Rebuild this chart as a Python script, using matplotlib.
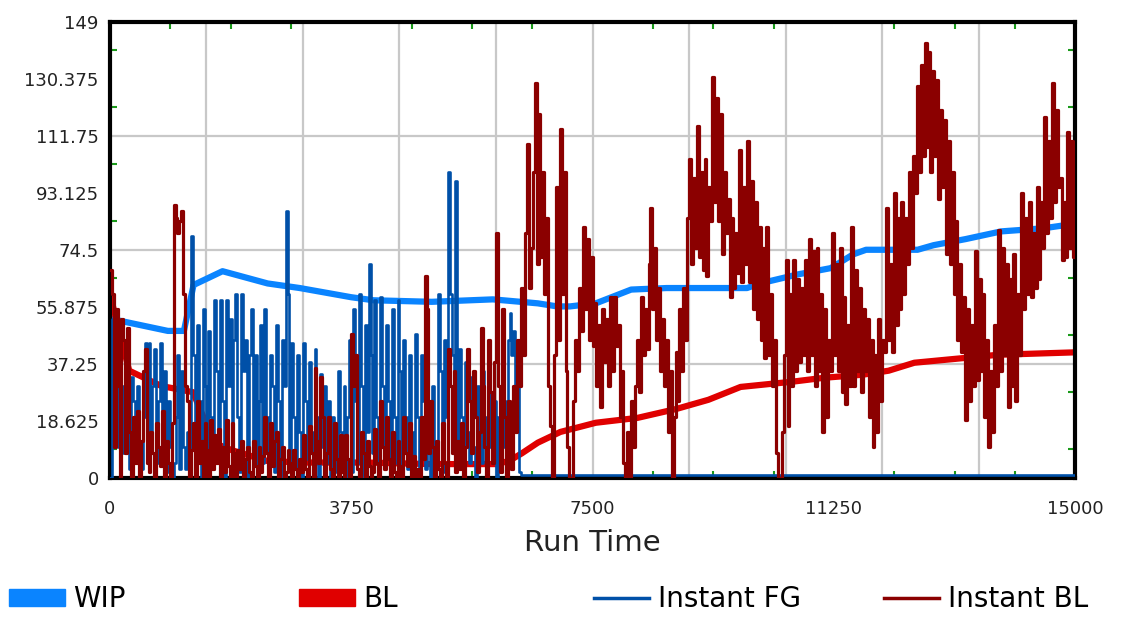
import numpy as np
import matplotlib.pyplot as plt
from matplotlib.patches import Patch
from matplotlib.lines import Line2D

# WIP (average)
wip_t = [0, 900, 1150, 1300, 1750, 2450, 2950, 3750, 4100, 5000, 5950, 6650, 6950, 7150,
         7550, 8100, 8650, 9900, 10100, 10700, 11200, 11550, 11750, 12550, 12800, 13300,
         13850, 14500, 15000]
wip_v = [52, 48, 48, 63, 67.5, 63.5, 62, 59, 58, 57.5, 58.3, 57, 56, 56,
         57, 61.5, 62, 62, 63.5, 66.5, 68.5, 73, 74.5, 74.5, 76, 78,
         80.5, 81.5, 83]

# BL (average)
bl_t = [0, 300, 800, 1290, 1450, 1550, 1900, 2450, 3000, 4000, 5000, 6000, 6200, 6400,
        6650, 7000, 7550, 8200, 8800, 9300, 9800, 10600, 11100, 11700, 12100, 12500,
        13300, 13800, 15000]
bl_v = [60, 35, 30, 28, 20, 12, 9, 5.5, 5, 5, 4.5, 4.5, 5.5, 8,
        11.5, 15, 18, 19.6, 22.5, 25.5, 29.7, 31.4, 32.7, 33.7, 35, 37.6,
        39.2, 40.2, 41]

# Instant FG, one value every 30 time units until it settles near zero
inst_fg = [0, 52, 35, 48, 10, 50, 30, 8, 45, 20,
           3, 33, 25, 5, 30, 12, 3, 20, 44, 15,
           44, 10, 30, 42, 5, 25, 44, 8, 35, 2,
           25, 10, 0, 5, 20, 40, 3, 35, 10, 3,
           15, 5, 79, 40, 10, 50, 25, 0, 55, 30,
           8, 48, 20, 3, 58, 35, 5, 58, 25, 0,
           58, 30, 52, 10, 45, 60, 20, 2, 60, 35,
           45, 0, 40, 55, 8, 40, 2, 25, 50, 5,
           55, 20, 8, 40, 30, 2, 50, 25, 0, 45,
           30, 87, 60, 5, 44, 20, 3, 40, 15, 0,
           44, 25, 6, 38, 15, 2, 42, 20, 0, 34,
           10, 30, 5, 25, 0, 20, 8, 2, 35, 15,
           5, 30, 0, 20, 45, 2, 55, 25, 5, 60,
           30, 0, 50, 15, 70, 40, 8, 58, 20, 0,
           59, 30, 10, 50, 25, 2, 55, 20, 5, 58,
           35, 0, 45, 20, 3, 40, 15, 0, 47, 20,
           0, 40, 25, 3, 47, 20, 0, 30, 10, 5,
           60, 35, 2, 45, 20, 100, 60, 40, 25, 97,
           10, 42, 20, 0, 38, 15, 5, 33, 10, 0,
           30, 15, 5, 35, 20, 0, 30, 10, 5, 25,
           0, 20, 5, 30, 10, 25, 45, 54, 40, 48,
           30, 42, 2, 0.8]
fg_end = 15000

# Instant BL, one value every 30 time units
inst_bl = [68, 60, 10, 55, 30, 0, 52, 45, 8, 49,
           15, 0, 20, 5, 22, 0, 12, 35, 42, 5,
           2, 15, 8, 0, 18, 10, 4, 22, 0, 12,
           5, 0, 18, 89, 85, 80, 84, 87, 60, 30,
           25, 0, 9, 18, 0, 25, 5, 12, 0, 18,
           9, 0, 19, 3, 14, 5, 16, 0, 10, 2,
           19, 4, 0, 18, 8, 0, 9, 3, 12, 0,
           6, 10, 2, 0, 12, 4, 0, 10, 2, 7,
           20, 8, 0, 18, 4, 12, 15, 0, 6, 10,
           0, 2, 9, 5, 0, 9, 3, 0, 6, 2,
           14, 3, 0, 17, 8, 0, 36, 12, 5, 33,
           20, 0, 8, 20, 3, 0, 18, 6, 0, 14,
           2, 0, 14, 6, 0, 47, 30, 40, 3, 0,
           15, 8, 0, 12, 4, 0, 2, 16, 5, 0,
           25, 10, 3, 20, 6, 0, 15, 2, 0, 12,
           4, 0, 20, 8, 4, 18, 0, 7, 0, 3,
           0, 20, 6, 66, 55, 8, 25, 10, 0, 12,
           3, 0, 18, 5, 0, 42, 30, 8, 35, 2,
           12, 3, 18, 0, 10, 42, 25, 8, 35, 20,
           2, 15, 49, 30, 10, 0, 45, 28, 5, 38,
           80, 30, 2, 55, 20, 0, 25, 8, 3, 30,
           15, 45, 30, 62, 40, 80, 109, 62, 75, 100,
           129, 70, 119, 72, 100, 60, 85, 30, 17, 0,
           40, 95, 45, 114, 60, 100, 35, 10, 0, 0,
           25, 45, 35, 62, 48, 82, 55, 78, 45, 72,
           43, 57, 30, 50, 23, 55, 38, 52, 30, 59,
           35, 59, 43, 50, 20, 35, 5, 0, 15, 0,
           25, 10, 30, 45, 28, 59, 40, 55, 42, 70,
           88, 55, 75, 45, 62, 35, 52, 30, 45, 15,
           35, 0, 20, 41, 25, 55, 35, 62, 45, 85,
           104, 70, 98, 75, 115, 72, 100, 68, 104, 66,
           95, 84, 131, 90, 124, 84, 119, 73, 100, 80,
           91, 59, 85, 62, 80, 67, 107, 64, 95, 70,
           110, 64, 97, 55, 90, 52, 82, 45, 75, 39,
           82, 40, 60, 30, 45, 8, 0, 0, 15, 40,
           71, 17, 60, 30, 71, 35, 65, 38, 62, 40,
           71, 35, 78, 40, 74, 30, 75, 35, 60, 15,
           55, 20, 45, 35, 80, 40, 70, 35, 75, 28,
           59, 24, 50, 30, 82, 30, 68, 35, 62, 28,
           55, 35, 52, 20, 45, 10, 40, 15, 52, 25,
           45, 41, 88, 45, 70, 41, 93, 50, 85, 55,
           90, 60, 85, 70, 100, 75, 105, 93, 128, 100,
           135, 105, 142, 108, 139, 100, 133, 105, 130, 91,
           120, 95, 117, 73, 110, 70, 100, 60, 84, 45,
           70, 41, 59, 19, 55, 25, 50, 30, 74, 32,
           65, 35, 60, 20, 45, 10, 35, 15, 50, 30,
           81, 35, 75, 40, 70, 23, 65, 30, 73, 25,
           60, 40, 93, 55, 85, 60, 90, 59, 80, 62,
           95, 65, 90, 75, 118, 80, 110, 85, 129, 90,
           120, 95, 98, 71, 90, 72, 113, 75, 110, 72,
           85]

x_labels = ["0", "3750", "7500", "11250", "15000"]
y_labels = ["0", "18.625", "37.25", "55.875", "74.5", "93.125", "111.75", "130.375", "149"]

fig = plt.figure(figsize=(11.33, 6.19), dpi=100)
ax = fig.add_axes([0.097, 0.228, 0.852, 0.737])

step = 30
bl_t_inst = np.arange(len(inst_bl)) * step
fg_t_inst = np.append(np.arange(len(inst_fg)) * step, fg_end)
fg_vals = inst_fg + [inst_fg[-1]]

# grid
for v in np.arange(1500, 15000, 1500):
    ax.axvline(v, color='#c8c8c8', lw=1.6, zorder=0)
for v in np.arange(37.25, 149, 37.25):
    ax.axhline(v, color='#c8c8c8', lw=1.6, zorder=0)

ax.plot(wip_t, wip_v, color='#0a84ff', lw=4.5, zorder=2, solid_capstyle='butt')
ax.plot(bl_t, bl_v, color='#e00000', lw=4.5, zorder=2, solid_capstyle='butt')
ax.plot(fg_t_inst, fg_vals, color='#0050a8', lw=1.9, drawstyle='steps-post', zorder=3)
ax.plot(bl_t_inst, inst_bl, color='#8b0000', lw=2.3, drawstyle='steps-post', zorder=4)

ax.set_xlim(0, 15000)
ax.set_ylim(0, 149)

ax.set_xticks(np.linspace(0, 15000, len(x_labels)))
ax.set_xticklabels(x_labels)
ax.set_yticks(np.linspace(0, 149, len(y_labels)))
ax.set_yticklabels(y_labels)
ax.tick_params(axis='both', which='major', length=0, labelsize=13, colors='#222222')
ax.tick_params(axis='x', which='major', pad=16)
ax.tick_params(axis='y', which='major', pad=8)

ax.set_xticks(np.arange(0, 15001, 937.5), minor=True)
ax.set_yticks(np.arange(0, 149.1, 9.3125), minor=True)
ax.tick_params(which='minor', direction='in', length=5, width=1.5, color='#1a9a1a',
               top=True, bottom=True, left=True, right=True)

for s in ax.spines.values():
    s.set_linewidth(3)
    s.set_color('black')

ax.set_xlabel("Run Time", fontsize=21, labelpad=8, color='#222222')

legend_items = [
    (Patch(color='#0a84ff'), "WIP", 0.008),
    (Patch(color='#e00000'), "BL", 0.264),
    (Line2D([], [], color='#0050a8', lw=2.5), "Instant FG", 0.524),
    (Line2D([], [], color='#8b0000', lw=2.5), "Instant BL", 0.780),
]
for handle, label, xpos in legend_items:
    fig.legend([handle], [label], loc='center left', bbox_to_anchor=(xpos, 0.032),
               frameon=False, fontsize=20, handlelength=2.0, handleheight=0.55,
               handletextpad=0.3, borderaxespad=0, borderpad=0)

fig.savefig("out.png", dpi=100)
